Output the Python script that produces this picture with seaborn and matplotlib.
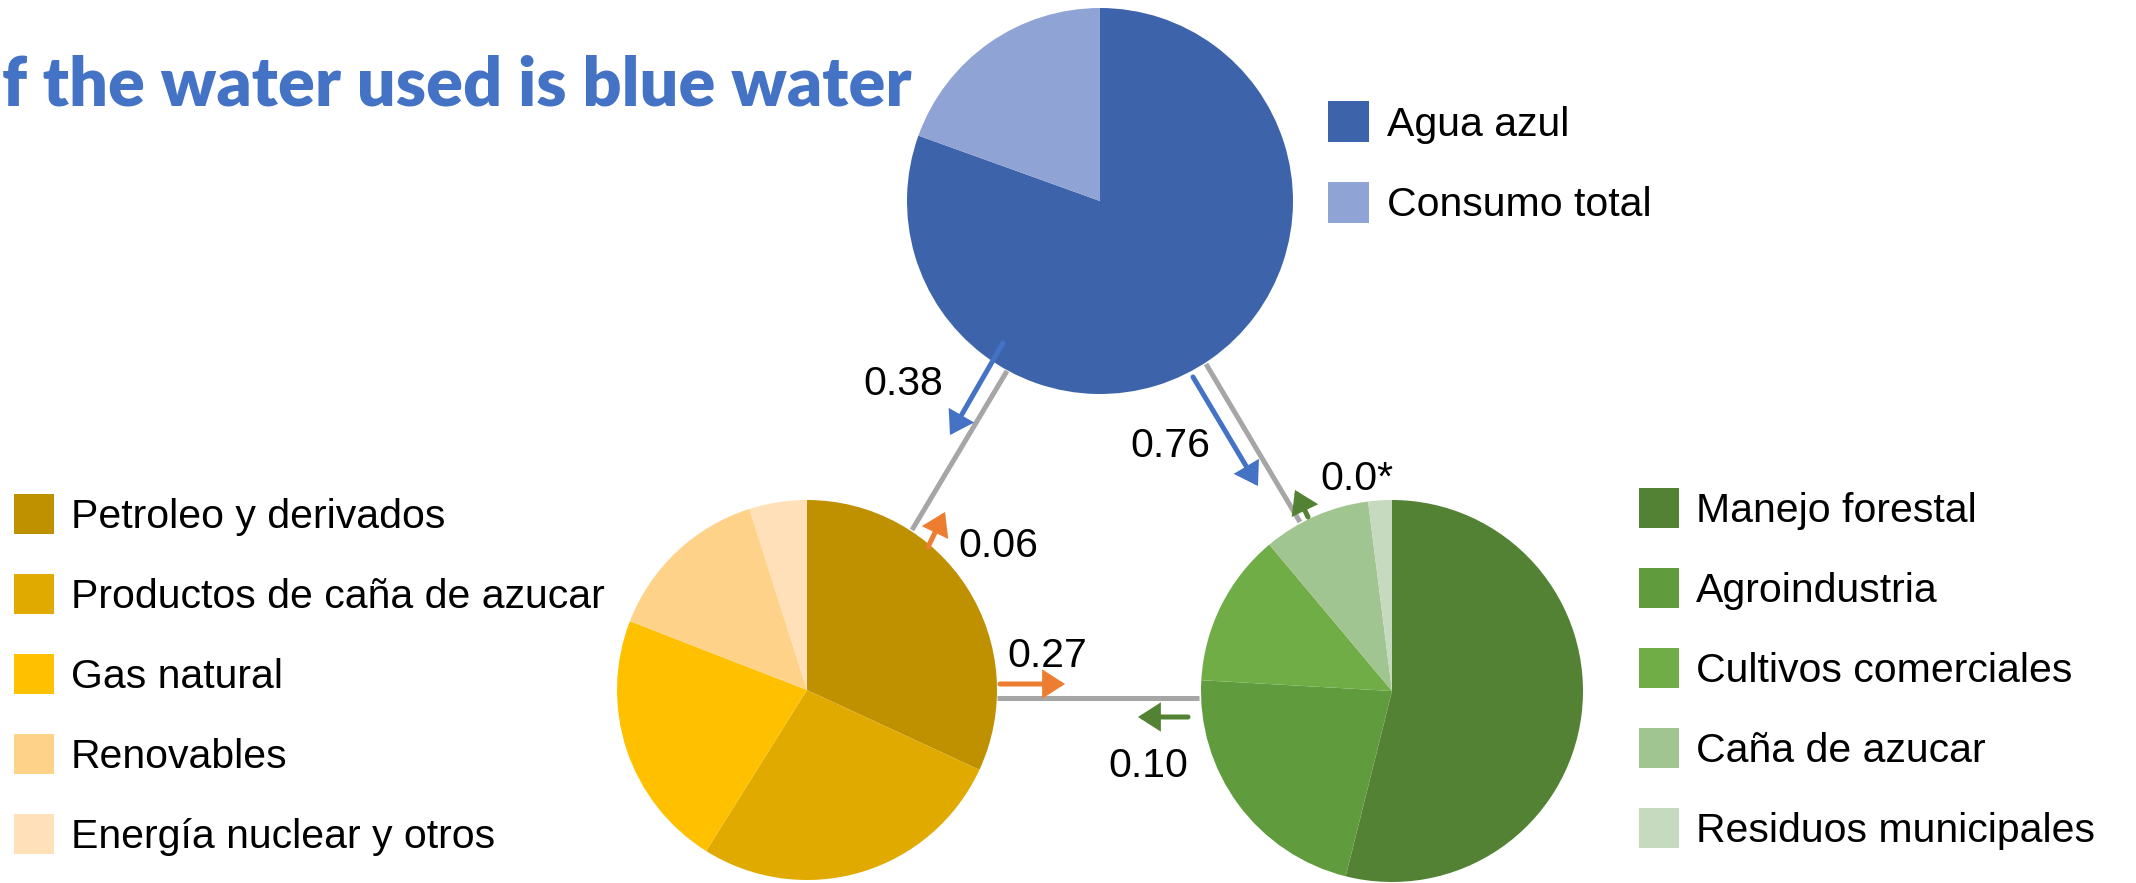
import matplotlib
matplotlib.use("Agg")
import matplotlib.pyplot as plt
import seaborn as sns
from matplotlib.patches import Rectangle

# ---------------- data ----------------
water_labels = ["Agua azul", "Consumo total"]
water_values = [80.5, 19.5]
water_colors = ["#3d64ab", "#8fa3d4"]

energy_labels = ["Petroleo y derivados", "Productos de caña de azucar",
                 "Gas natural", "Renovables", "Energía nuclear y otros"]
energy_values = [31.9, 27.0, 22.0, 14.2, 4.9]
energy_colors = ["#bf9000", "#e0aa00", "#ffc000", "#ffd28a", "#ffe0b8"]

land_labels = ["Manejo forestal", "Agroindustria", "Cultivos comerciales",
               "Caña de azucar", "Residuos municipales"]
land_values = [53.9, 22.0, 13.0, 9.1, 2.0]
land_colors = ["#538234", "#609b3e", "#70ad47", "#a1c591", "#c5dabe"]

flow_labels = ["0.38", "0.76", "0.0*", "0.06", "0.27", "0.10"]
flow_colors = ["#4472c4", "#4472c4", "#548235", "#ed7d31", "#ed7d31", "#548235"]

title_text = "f the water used is blue water"

# ---------------- layout (pixels, y from top) ----------------
W, H = 2136, 883
def Y(py):
    return H - py

pie_layout = {
    "water": dict(center=(1100, 201), radius=193),
    "energy": dict(center=(807, 690), radius=190),
    "land": dict(center=(1392, 691), radius=191),
}
links = [((1007, 371), (912, 530)),
         ((1206, 364), (1300, 522)),
         ((997, 698), (1199, 698))]
arrows = [((1003, 343), (950, 435)),
          ((1193, 377), (1258, 486)),
          ((1308, 517), (1295, 490)),
          ((928, 547), (945, 512)),
          ((1000, 684), (1065, 684)),
          ((1188, 717), (1138, 717))]
label_pos = [(863, 395), (1130, 457), (1320, 490), (958, 557), (1007, 667), (1108, 777)]

sns.set_theme(style="white")
plt.rcParams["font.family"] = ["Liberation Sans", "DejaVu Sans"]

fig = plt.figure(figsize=(W / 100, H / 100), dpi=100)
fig.patch.set_facecolor("white")
ax = fig.add_axes([0, 0, 1, 1])

# links (drawn below pies)
for (p0, p1) in links:
    ax.plot([p0[0], p1[0]], [Y(p0[1]), Y(p1[1])], color="#a6a6a6", lw=3.6,
            solid_capstyle="butt", zorder=1)

for vals, cols, key in [(water_values, water_colors, "water"),
                        (energy_values, energy_colors, "energy"),
                        (land_values, land_colors, "land")]:
    lay = pie_layout[key]
    ax.pie(vals, colors=cols, startangle=90, counterclock=False,
           center=(lay["center"][0], Y(lay["center"][1])), radius=lay["radius"],
           wedgeprops=dict(linewidth=0), frame=False)

for (p0, p1), c in zip(arrows, flow_colors):
    ax.annotate("", xy=(p1[0], Y(p1[1])), xytext=(p0[0], Y(p0[1])),
                arrowprops=dict(arrowstyle="-|>,head_length=0.42,head_width=0.27",
                                mutation_scale=27, lw=3.6, color=c,
                                shrinkA=0, shrinkB=0, joinstyle="miter"), zorder=5)

FS = 29.5
for txt, (x, y) in zip(flow_labels, label_pos):
    ax.text(x, Y(y), txt, ha="left", va="baseline", fontsize=FS, color="black", zorder=6)

# legends
def legend(labels, colors, sq_x, text_x, centers_y, size=40):
    for lab, col, cy in zip(labels, colors, centers_y):
        ax.add_patch(Rectangle((sq_x, Y(cy + size / 2)), size, size,
                               facecolor=col, edgecolor="none", zorder=3))
        ax.text(text_x, Y(cy + 14.5), lab, ha="left", va="baseline",
                fontsize=FS, color="black")

legend(water_labels, water_colors, 1328, 1387, [121, 202], size=41)
legend(energy_labels, energy_colors, 14, 71, [514, 594, 674, 754, 834])
legend(land_labels, land_colors, 1639, 1696, [508, 588, 668, 748, 828])

# title, fitted to span from x=2 to x=912
t = ax.text(912, Y(105), title_text, ha="right", va="baseline", fontsize=44,
            fontweight="heavy", color="#4472c4", family=["Lato", "DejaVu Sans"])

ax.set_xlim(0, W)
ax.set_ylim(0, H)
ax.set_aspect("equal")
ax.axis("off")

fig.canvas.draw()
bb = t.get_window_extent()
t.set_fontsize(44 * 908 / bb.width)

fig.savefig("out.png", dpi=100, facecolor="white")
